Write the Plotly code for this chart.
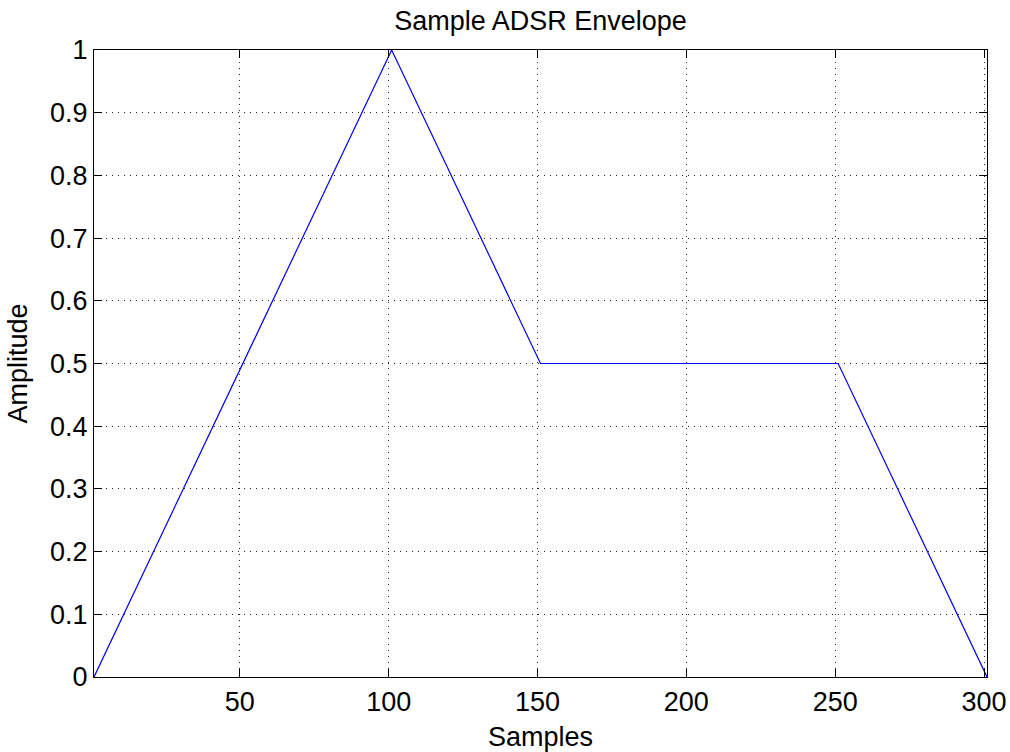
import plotly.graph_objects as go

samples = [1, 101, 151, 251, 301]
amplitude = [0, 1, 0.5, 0.5, 0]

x_ticks = [50, 100, 150, 200, 250, 300]
y_ticks = [0, 0.1, 0.2, 0.3, 0.4, 0.5, 0.6, 0.7, 0.8, 0.9, 1]
y_tick_labels = ["0", "0.1", "0.2", "0.3", "0.4", "0.5", "0.6", "0.7", "0.8", "0.9", "1"]

FONT = "Liberation Sans, Arial, Helvetica, sans-serif"
FS = 27

fig = go.Figure()
fig.add_trace(go.Scatter(x=samples, y=amplitude, mode="lines",
                         line=dict(color="rgb(0,0,255)", width=1.2),
                         showlegend=False))

axis_common = dict(
    showline=True, linecolor="black", linewidth=1.3, mirror="ticks",
    ticks="inside", ticklen=8, tickwidth=1.2, tickcolor="black",
    showgrid=True, gridcolor="rgba(0,0,0,0.85)", gridwidth=1, griddash="1px,5px",
    zeroline=False, automargin=False,
    tickfont=dict(family=FONT, size=FS, color="black"),
)

fig.update_layout(
    width=1010, height=752,
    margin=dict(l=94, r=23, t=50, b=75),
    paper_bgcolor="white", plot_bgcolor="white",
    title=dict(text="Sample ADSR Envelope", x=0.5, xanchor="center",
               xref="paper",
               y=0.973, yanchor="middle",
               font=dict(family=FONT, size=FS, color="black")),
    xaxis=dict(range=[1, 301], tickvals=x_ticks,
               title=dict(text="Samples", standoff=12,
                          font=dict(family=FONT, size=FS, color="black")),
               **axis_common),
    yaxis=dict(range=[0, 1], tickvals=y_ticks, ticktext=y_tick_labels,
               title=dict(text="Amplitude", standoff=14,
                          font=dict(family=FONT, size=FS, color="black")),
               **axis_common),
)

fig.write_html("out.html")
